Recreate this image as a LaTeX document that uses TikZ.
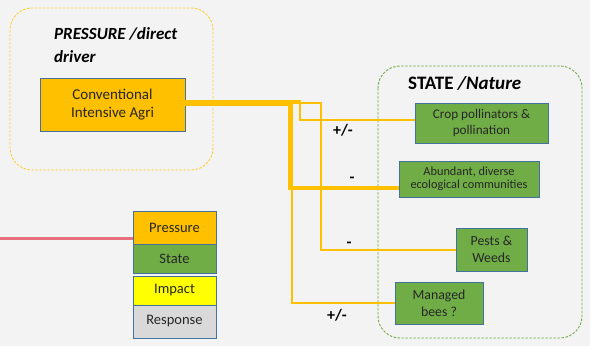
\documentclass[tikz,border=0pt]{standalone}
\usepackage{fontspec}
\setmainfont{Carlito}
\definecolor{pressureC}{HTML}{FFC000}
\definecolor{stateC}{HTML}{70AD47}
\definecolor{edgeC}{HTML}{41719C}
\definecolor{impactC}{HTML}{FFFF00}
\definecolor{responseC}{HTML}{D9D9D9}
\definecolor{redline}{HTML}{E8707E}
\definecolor{bgC}{HTML}{F3F3F3}
\tikzset{
  box/.style={draw=edgeC, line width=0.8pt, inner sep=2pt, align=center, text=black!85},
  pbox/.style={box, fill=pressureC},
  sbox/.style={box, fill=stateC},
  legendbox/.style={box, minimum width=83pt, font=\fontsize{14.5}{16}\selectfont},
  group/.style={dashed, dash pattern=on 2.5pt off 1.5pt, line width=0.9pt, rounded corners=22pt},
  conn/.style={draw=pressureC, line width=2pt},
  thickconn/.style={draw=pressureC, line width=3.5pt},
  sign/.style={font=\fontsize{16}{18}\selectfont\bfseries, text=black}
}
\begin{document}
\begin{tikzpicture}[x=1pt,y=-1pt]
  % canvas
  \fill[bgC] (0,0) rectangle (590,346);
  \useasboundingbox (0,0) rectangle (590,346);

  % group outlines
  \draw[group, draw=pressureC!80] (10,8) rectangle (213,170);
  \draw[group, draw=stateC] (378,66) rectangle (582,338);

  % group titles
  \node[anchor=north west, align=left, font=\fontsize{17}{23}\selectfont\bfseries\itshape, inner sep=0pt]
    (ptitle) at (54,27) {PRESSURE /direct\\driver};
  \node[anchor=base west, font=\fontsize{19}{22}\selectfont\bfseries, inner sep=0pt]
    (stitle) at (408,89) {STATE \textit{/Nature}};

  % pressure node
  \node[pbox, minimum width=145pt, minimum height=53pt, font=\fontsize{15}{18}\selectfont]
    (conv) at (112.5,104.5) {Conventional\\Intensive Agri};

  % state nodes
  \node[sbox, minimum width=133pt, minimum height=40pt, font=\fontsize{13.2}{15.5}\selectfont]
    (crop) at (481.5,123) {Crop pollinators \&\\pollination};
  \node[sbox, minimum width=140pt, minimum height=36pt, font=\fontsize{12.3}{13.5}\selectfont]
    (abund) at (469,179) {Abundant, diverse\\ecological communities};
  \node[sbox, minimum width=71pt, minimum height=43pt, font=\fontsize{13.8}{17}\selectfont]
    (pests) at (491.5,249.5) {Pests \&\\Weeds};
  \node[sbox, minimum width=88pt, minimum height=42pt, font=\fontsize{13.8}{17}\selectfont]
    (bees) at (439,303) {Managed\\bees ?};

  % connectors
  \draw[conn] ([yshift=3.5pt]conv.east) -- ++(115,0) |- ([yshift=3pt]crop.west);
  \draw[conn] ([yshift=1.5pt]conv.east) -- ++(136,0) |- (pests.west);
  \draw[conn] ([yshift=-0.5pt]conv.east) -- ++(107,0) |- (bees.west);
  \draw[thickconn] ([yshift=0.5pt]conv.east) -- ++(104,0) |- ([yshift=-9pt]abund.west);

  % signs
  \node[sign] (s1) at (343,130) {+/-};
  \node[sign] (s2) at (352,180) {-};
  \node[sign] (s3) at (349,245) {-};
  \node[sign] (s4) at (337,315) {+/-};

  % legend
  \node[legendbox, fill=pressureC, minimum height=33pt] (lp) at (174.5,227.5) {Pressure};
  \node[legendbox, fill=stateC, minimum height=29pt] (ls) at (174.5,258.5) {State};
  \node[legendbox, fill=impactC, minimum height=29pt] (li) at (174.5,290.5) {Impact};
  \node[legendbox, fill=responseC, minimum height=33pt] (lr) at (174.5,321.5) {Response};

  % incoming line on the left
  \coordinate (redstart) at (0,238);
  \draw[redline, line width=3pt] (redstart) -- (redstart -| lp.west);
\end{tikzpicture}
\end{document}
